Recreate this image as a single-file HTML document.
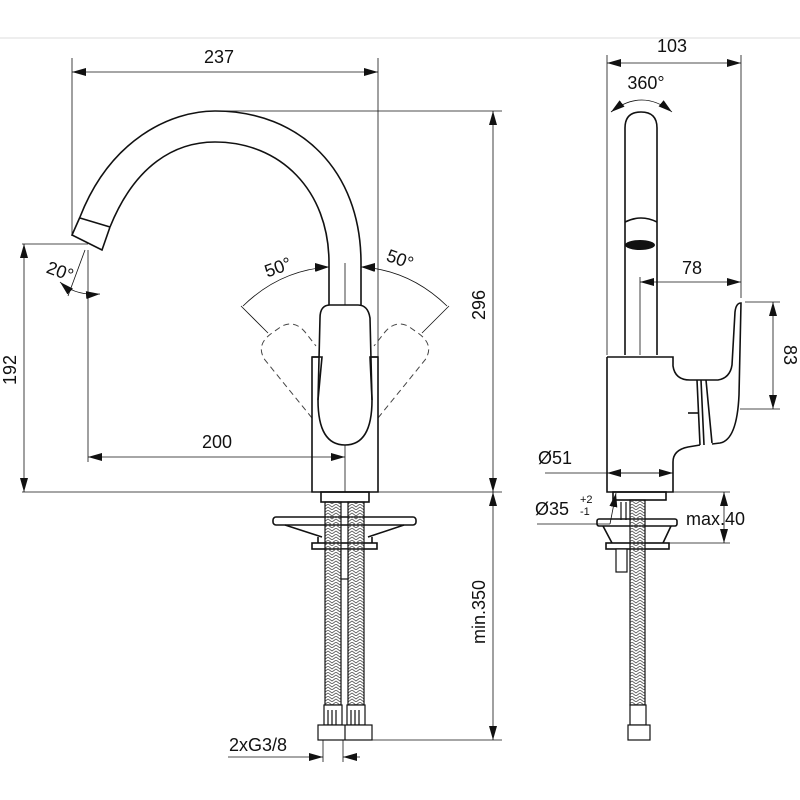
<!DOCTYPE html>
<html><head><meta charset="utf-8"><style>
html,body{margin:0;padding:0;background:#fff;}
svg{display:block;}
text{font-family:"Liberation Sans",sans-serif;fill:#111;}
</style></head><body>
<svg width="800" height="800" viewBox="0 0 800 800" xmlns="http://www.w3.org/2000/svg">
<defs>
<marker id="a" viewBox="0 0 14 8" refX="14" refY="4" markerWidth="14" markerHeight="8" orient="auto-start-reverse" markerUnits="userSpaceOnUse"><path d="M0,0L14,4L0,8z" fill="#111"/></marker>
<pattern id="h" width="8" height="6" patternUnits="userSpaceOnUse"><path d="M0,0L4,3L8,0M0,3L4,6L8,3" stroke="#555" stroke-width="0.8" fill="none"/></pattern>
</defs>
<line x1="0" y1="38" x2="800" y2="38" stroke="#ddd" stroke-width="1"/>
<g fill="none" stroke="#111" stroke-width="0.8">
<line x1="72" y1="72" x2="378" y2="72" marker-start="url(#a)" marker-end="url(#a)"/>
<line x1="72" y1="58" x2="72" y2="236"/>
<line x1="378" y1="58" x2="378" y2="492"/>
<line x1="215" y1="111" x2="502" y2="111"/>
<line x1="493" y1="111" x2="493" y2="492" marker-start="url(#a)" marker-end="url(#a)"/>
<line x1="22" y1="492" x2="502" y2="492"/>
<line x1="22" y1="244" x2="88" y2="244"/>
<line x1="24" y1="244" x2="24" y2="492" marker-start="url(#a)" marker-end="url(#a)"/>
<line x1="88" y1="250" x2="88" y2="462"/>
<line x1="88" y1="457" x2="345" y2="457" marker-start="url(#a)" marker-end="url(#a)"/>
<line x1="345" y1="263" x2="345" y2="492"/>
<line x1="85" y1="250" x2="68" y2="296"/>
<path d="M60,282 Q75,296 100,294" marker-start="url(#a)" marker-end="url(#a)"/>
<path d="M329,267 Q280,270 243,306" marker-start="url(#a)"/>
<path d="M361,267 Q410,270 447,306" marker-start="url(#a)"/>
<line x1="317" y1="267" x2="329" y2="267" marker-end="url(#a)"/>
<line x1="373" y1="267" x2="361" y2="267" marker-end="url(#a)"/>
<line x1="241" y1="306" x2="268" y2="333"/>
<line x1="449" y1="306" x2="422" y2="333"/>
<line x1="493" y1="492" x2="493" y2="740" marker-start="url(#a)" marker-end="url(#a)"/>
<line x1="372" y1="740" x2="502" y2="740"/>
<line x1="323" y1="740" x2="323" y2="762"/>
<line x1="343" y1="740" x2="343" y2="762"/>
<line x1="228" y1="757" x2="323" y2="757" marker-end="url(#a)"/>
<line x1="360" y1="757" x2="343" y2="757" marker-end="url(#a)"/>
<line x1="607" y1="63" x2="741" y2="63" marker-start="url(#a)" marker-end="url(#a)"/>
<line x1="607" y1="55" x2="607" y2="355"/>
<line x1="741" y1="55" x2="741" y2="298"/>
<path d="M611,112 Q642,88 672,112" marker-start="url(#a)" marker-end="url(#a)"/>
<line x1="640" y1="282" x2="741" y2="282" marker-start="url(#a)" marker-end="url(#a)"/>
<line x1="640" y1="277" x2="640" y2="355"/>
<line x1="745" y1="302" x2="780" y2="302"/>
<line x1="740" y1="409" x2="780" y2="409"/>
<line x1="773" y1="302" x2="773" y2="409" marker-start="url(#a)" marker-end="url(#a)"/>
<line x1="545" y1="473" x2="673" y2="473"/>
<line x1="607" y1="473" x2="673" y2="473" marker-start="url(#a)" marker-end="url(#a)"/>
<line x1="537" y1="524" x2="610" y2="524"/>
<line x1="610" y1="524" x2="616" y2="493" marker-end="url(#a)"/>
<line x1="666" y1="492" x2="730" y2="492"/>
<line x1="665" y1="543" x2="730" y2="543"/>
<line x1="724" y1="492" x2="724" y2="543" marker-start="url(#a)" marker-end="url(#a)"/>
</g>
<g fill="none" stroke="#444" stroke-width="1" stroke-dasharray="6,4">
<path d="M312,418 L265,360 Q255,345 272,333 L282,326 Q295,320 305,332 L316,346"/>
<path d="M378,418 L425,360 Q435,345 418,333 L408,326 Q395,320 385,332 L374,346"/>
</g>
<g fill="none" stroke="#111" stroke-width="1.6">
<path d="M80,217 C110,140 170,111 215,111 C300,111 361,170 361,263 L361,306"/>
<path d="M110,227 C135,165 175,142 215,142 C280,142 329,190 329,263 L329,306"/>
<path d="M80,217 L72,235 L102,250 L110,227"/>
<line x1="80" y1="218" x2="110" y2="227"/>
<path d="M322,357 L312,357 L312,492 L378,492 L378,357 L370,357"/>
<path d="M330,305 Q320,305 320,318 L318,400 Q318,445 345,445 Q372,445 372,400 L370,318 Q368,305 358,305 Z" fill="#fff"/>
<path d="M312,357 L322,357 L318,400 M378,357 L370,357 L372,400"/>
<rect x="321" y="492" width="48" height="10"/>
<rect x="273" y="517" width="143" height="8" rx="3"/>
<path d="M285,525 L322,537 M404,525 L368,537"/>
<rect x="312" y="543" width="65" height="6"/>
<line x1="318" y1="537" x2="318" y2="543"/><line x1="372" y1="537" x2="372" y2="543"/>
</g>
<g stroke="#111" stroke-width="1.2">
<rect x="325" y="502" width="16" height="203" fill="url(#h)"/>
<rect x="348" y="502" width="16" height="203" fill="url(#h)"/>
<rect x="341" y="549" width="7" height="30" fill="#fff"/>
<rect x="324" y="705" width="18" height="20" fill="#fff"/>
<rect x="347" y="705" width="18" height="20" fill="#fff"/>
<path d="M328,710V725M332,710V725M336,710V725M351,710V725M355,710V725M359,710V725"/>
<rect x="318" y="725" width="54" height="15" fill="#fff"/>
<line x1="345" y1="725" x2="345" y2="740"/>
</g>
<g fill="none" stroke="#111" stroke-width="1.6">
<path d="M625,355 L625,128 Q625,112 641,112 Q657,112 657,128 L657,355"/>
<path d="M625,222 Q641,214 657,222"/>
<path d="M607,357 L673,357 L673,366 Q675,380 690,380 L718,380 Q730,378 732,365 L735,312 Q736,303 741,303 L739,395 Q737,440 720,443 L712,444"/>
<path d="M697,380 L700,445 M701,380 L704,445 M706,380 L712,443"/>
<path d="M700,445 L688,447 Q673,450 673,462 L673,492 L607,492 L607,357"/>
<line x1="688" y1="413" x2="698" y2="413"/>
<rect x="613" y="492" width="53" height="8"/>
<rect x="597" y="519" width="80" height="7" rx="2"/>
<path d="M603,526 L612,543 M671,526 L663,543"/>
<rect x="606" y="543" width="63" height="6"/>
</g>
<ellipse cx="640" cy="245" rx="15" ry="5" fill="#111"/>
<g stroke="#111" stroke-width="1.2">
<rect x="616" y="549" width="11" height="23" fill="#fff"/>
<rect x="630" y="500" width="15" height="205" fill="url(#h)"/>
<line x1="621" y1="502" x2="621" y2="520"/><line x1="626" y1="502" x2="626" y2="520" />
<rect x="630" y="705" width="16" height="20" fill="#fff"/>
<rect x="628" y="725" width="22" height="15" fill="#fff"/>
</g>
<g font-size="18">
<text x="219" y="63" text-anchor="middle">237</text>
<text x="217" y="448" text-anchor="middle">200</text>
<text x="672" y="52" text-anchor="middle">103</text>
<text x="646" y="89" text-anchor="middle">360°</text>
<text x="692" y="274" text-anchor="middle">78</text>
<text x="538" y="464">Ø51</text>
<text x="535" y="515">Ø35</text>
<text x="686" y="525">max.40</text>
<text x="229" y="751">2xG3/8</text>
<text transform="translate(16,370) rotate(-90)" text-anchor="middle">192</text>
<text transform="translate(485,305) rotate(-90)" text-anchor="middle">296</text>
<text transform="translate(485,612) rotate(-90)" text-anchor="middle">min.350</text>
<text transform="translate(784,355) rotate(90)" text-anchor="middle">83</text>
<text transform="translate(58,277) rotate(20)" text-anchor="middle">20°</text>
<text transform="translate(280,273) rotate(-20)" text-anchor="middle">50°</text>
<text transform="translate(398,265) rotate(20)" text-anchor="middle">50°</text>
</g>
<text x="580" y="503" font-size="11">+2</text>
<text x="580" y="515" font-size="11">-1</text>
</svg>
</body></html>
